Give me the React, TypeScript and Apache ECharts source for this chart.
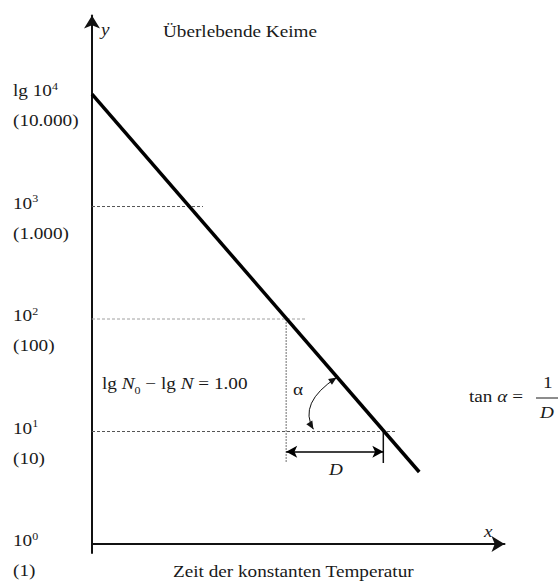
import React, { useEffect, useRef } from 'react';
import * as echarts from 'echarts';

// y levels (lg N) and their labels
const LEVELS = [4, 3, 2, 1, 0];
const LEVEL_BASES = ['lg 10', '10', '10', '10', '10'];
const LEVEL_EXPS = ['4', '3', '2', '1', '0'];
const LEVEL_VALUES = ['(10.000)', '(1.000)', '(100)', '(10)', '(1)'];

// survivor curve (x in units of D, y = lg N)
const CURVE_X = [0, 3.37];
const CURVE_Y = [4, 0.64];

// dashed guide lines
const GUIDE_LEVELS = [3, 2, 1];
const GUIDE_END_X = [1.143, 2.194, 3.141];
const TICK_START_X = -0.124;

// D construction
const D_START_X = 2;
const D_END_X = 3;
const D_ARROW_Y = 0.82;
const D_BOTTOM_Y = 0.72;
const D_TOP_Y = 2;

// alpha arc (start on 10^1 line, end on the curve, control point)
const ALPHA_FROM = [2.28, 1.02];
const ALPHA_TO = [2.52, 1.48];
const ALPHA_CP = [2.12, 1.253];
const ALPHA_LABEL = [2.07, 1.37];
const D_LABEL = [2.44, 0.66];

const X_MIN = 0;
const X_MAX = 4.248;
const Y_MIN = -0.08;
const Y_MAX = 4.698;

const FONT = 'Liberation Serif, Times New Roman, serif';
const SX = 1.2;
const INK = '#1a1a1a';

export default function App() {
  const ref = useRef<HTMLDivElement>(null);

  useEffect(() => {
    if (!ref.current) return;
    const chart = echarts.init(ref.current, null, { renderer: 'svg' });

    const series: any[] = [];
    series.push({
      type: 'line',
      data: CURVE_X.map((x, i) => [x, CURVE_Y[i]]),
      symbol: 'none',
      clip: false,
      silent: true,
      z: 5,
      lineStyle: { color: '#000', width: 3.5 },
    });
    GUIDE_LEVELS.forEach((lvl, i) => {
      series.push({
        type: 'line',
        data: [[TICK_START_X, lvl], [0, lvl]],
        symbol: 'none',
        clip: false,
        silent: true,
        lineStyle: { color: '#222', width: 2 },
      });
      series.push({
        type: 'line',
        data: [[0, lvl], [GUIDE_END_X[i], lvl]],
        symbol: 'none',
        clip: false,
        silent: true,
        lineStyle: { color: lvl === 2 ? '#a0a0a0' : '#555', width: 1, type: [3, 2] },
      });
    });
    series.push({
      type: 'line',
      data: [[D_START_X, D_TOP_Y], [D_START_X, D_BOTTOM_Y]],
      symbol: 'none',
      clip: false,
      silent: true,
      lineStyle: { color: '#a0a0a0', width: 1.5, type: [2, 1] },
    });
    series.push({
      type: 'line',
      data: [[D_END_X, 1], [D_END_X, D_BOTTOM_Y]],
      symbol: 'none',
      clip: false,
      silent: true,
      lineStyle: { color: '#111', width: 1.5 },
    });
    series.push({
      type: 'line',
      data: [],
      silent: true,
      markLine: {
        silent: true,
        animation: false,
        symbol: ['arrow', 'arrow'],
        symbolSize: [9, 11],
        label: { show: false },
        lineStyle: { color: '#000', width: 1.5, type: 'solid' },
        data: [[{ coord: [D_START_X, D_ARROW_Y] }, { coord: [D_END_X, D_ARROW_Y] }]],
      },
    });

    const option: any = {
      animation: false,
      backgroundColor: '#fff',
      grid: { left: 92, right: 53.5, top: 15.5, bottom: 29, containLabel: false },
      xAxis: {
        type: 'value',
        min: X_MIN,
        max: X_MAX,
        axisLine: {
          show: true,
          symbol: ['none', 'arrow'],
          symbolSize: [12, 13],
          lineStyle: { color: '#111', width: 2 },
        },
        axisTick: { show: false },
        axisLabel: { show: false },
        splitLine: { show: false },
      },
      yAxis: {
        type: 'value',
        min: Y_MIN,
        max: Y_MAX,
        axisLine: {
          show: true,
          symbol: ['none', 'arrow'],
          symbolSize: [12, 13],
          lineStyle: { color: '#111', width: 2 },
        },
        axisTick: { show: false },
        axisLabel: { show: false },
        splitLine: { show: false },
      },
      series,
    };
    chart.setOption(option);

    const px = (p: number[]) => chart.convertToPixel({ xAxisIndex: 0, yAxisIndex: 0 }, p) as number[];

    const text = (x: number, y: number, t: string, extra: any = {}, rich?: any) => ({
      type: 'text',
      x,
      y,
      scaleX: SX,
      silent: true,
      style: {
        text: t,
        fill: INK,
        fontFamily: FONT,
        fontSize: 16,
        align: 'left',
        verticalAlign: 'middle',
        rich,
        ...extra,
      },
    });

    const supRich = {
      b: { fontFamily: FONT, fontSize: 16, fill: INK, lineHeight: 20 },
      s: { fontFamily: FONT, fontSize: 10, fill: INK, lineHeight: 12, verticalAlign: 'top' },
    };

    const graphics: any[] = [];
    LEVELS.forEach((lvl, i) => {
      const yy = px([0, lvl])[1];
      graphics.push(text(13, yy - 3, `{b|${LEVEL_BASES[i]}}{s|${LEVEL_EXPS[i]}}`, {}, supRich));
      graphics.push(text(13, yy + 27, LEVEL_VALUES[i]));
    });

    graphics.push(text(101, 30, 'y', { fontStyle: 'italic' }));
    graphics.push(text(163, 32, 'Überlebende Keime'));
    graphics.push(text(484, 532, 'x', { fontStyle: 'italic' }));
    graphics.push(text(173, 572, 'Zeit der konstanten Temperatur'));

    const formulaRich = {
      r: { fontFamily: FONT, fontSize: 16, fill: INK, lineHeight: 22 },
      i: { fontFamily: FONT, fontSize: 16, fill: INK, fontStyle: 'italic', lineHeight: 22 },
      sub: { fontFamily: FONT, fontSize: 10, fill: INK, lineHeight: 12, verticalAlign: 'bottom' },
    };
    graphics.push(
      text(102, 384, '{r|lg }{i|N}{sub|0}{r| − lg }{i|N}{r| = 1.00}', {}, formulaRich)
    );
    graphics.push(text(469, 397, '{r|tan }{i|α}{r| =}', {}, formulaRich));
    graphics.push(text(543, 383, '1'));
    graphics.push(text(540, 413, 'D', { fontStyle: 'italic' }));
    graphics.push({
      type: 'line',
      silent: true,
      shape: { x1: 536, y1: 398, x2: 558, y2: 398 },
      style: { stroke: INK, lineWidth: 1 },
    });

    // alpha arc with arrowheads
    const p0 = px(ALPHA_FROM);
    const p1 = px(ALPHA_TO);
    const cp = px(ALPHA_CP);
    graphics.push({
      type: 'bezierCurve',
      silent: true,
      shape: { x1: p0[0], y1: p0[1], x2: p1[0], y2: p1[1], cpx1: cp[0], cpy1: cp[1] },
      style: { stroke: '#111', lineWidth: 1, fill: 'none' },
    });
    const head = (tip: number[], from: number[]) => {
      const dx = tip[0] - from[0];
      const dy = tip[1] - from[1];
      const len = Math.hypot(dx, dy) || 1;
      const ux = dx / len;
      const uy = dy / len;
      const L = 8;
      const W = 3.5;
      const bx = tip[0] - ux * L;
      const by = tip[1] - uy * L;
      return {
        type: 'polygon',
        silent: true,
        shape: {
          points: [
            [tip[0], tip[1]],
            [bx - uy * W, by + ux * W],
            [bx + uy * W, by - ux * W],
          ],
        },
        style: { fill: '#111' },
      };
    };
    graphics.push(head(p0, cp));
    graphics.push(head(p1, cp));

    const aPos = px(ALPHA_LABEL);
    graphics.push(text(aPos[0], aPos[1], 'α'));
    const dPos = px(D_LABEL);
    graphics.push(text(dPos[0], dPos[1], 'D', { fontStyle: 'italic' }));

    chart.setOption({ graphic: graphics });

    return () => chart.dispose();
  }, []);

  return (
    <div
      ref={ref}
      style={{ position: 'fixed', left: 0, top: 0, width: 558, height: 582, background: '#fff' }}
    />
  );
}
